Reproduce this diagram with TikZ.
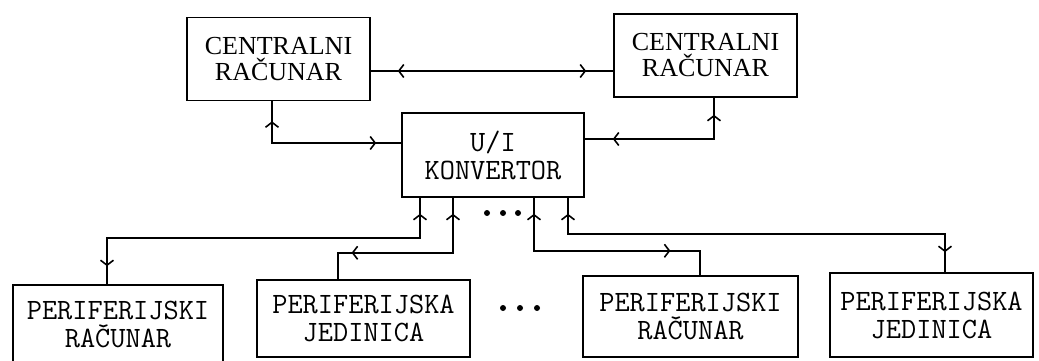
\documentclass[tikz,border=0pt]{standalone}
\usepackage{fontspec}
\setmainfont{Liberation Serif}
\usepackage{tikz}
\usetikzlibrary{arrows.meta,decorations.markings}

\begin{document}
\begin{tikzpicture}[
  x=1pt, y=-1pt,
  central/.style={rectangle, draw, line width=1.6pt, minimum width=183pt, minimum height=83pt, align=center, font=\fontsize{26}{26}\selectfont},
  periph/.style={rectangle, draw, line width=1.6pt, minimum height=79pt, align=center, font=\ttfamily\fontsize{29.5}{28}\selectfont},
  link/.style={line width=1.6pt},
  fwd/.style={postaction={decorate, decoration={markings, mark=at position #1 with {\arrow{Straight Barb[length=5pt, width=13pt, line width=1.6pt]}}}}},
  bwd/.style={postaction={decorate, decoration={markings, mark=at position #1 with {\arrowreversed{Straight Barb[length=5pt, width=13pt, line width=1.6pt]}}}}}
]
  \useasboundingbox (0,0) rectangle (1039,361);

  % Top row: the two central computers
  \node[central] (cl) at (278.5, 59) {CENTRALNI\\RAČUNAR};
  \node[central] (cr) at (705.5, 55.5) {CENTRALNI\\RAČUNAR};

  % Middle: converter
  \node[periph, minimum width=182pt, minimum height=84pt] (ui) at (493, 155) {U/I\\KONVERTOR};

  % Bottom row: peripherals
  \node[periph, minimum width=210pt] (p1) at (118, 324.5) {PERIFERIJSKI\\RAČUNAR};
  \node[periph, minimum width=213pt, minimum height=77pt] (p2) at (363.5, 318.5) {PERIFERIJSKA\\JEDINICA};
  \node[periph, minimum width=215pt, minimum height=81pt] (p3) at (690.5, 316.5) {PERIFERIJSKI\\RAČUNAR};
  \node[periph, minimum width=203pt, minimum height=84pt] (p4) at (931.5, 315) {PERIFERIJSKA\\JEDINICA};

  % Link between central computers
  \draw[link, bwd=27pt, fwd=-27pt] ([yshift=-12pt]cl.east) coordinate (h) -- (h -| cr.west);

  % Central computers to converter
  \draw[link, bwd=20pt, fwd=-25pt] ([xshift=-6.5pt]cl.south) |- ([yshift=12pt]ui.west);
  \draw[link, bwd=17pt, fwd=-28pt] ([xshift=8.5pt]cr.south) |- ([yshift=16pt]ui.east);

  % Converter to peripherals
  \draw[link, bwd=16pt, fwd=-18pt] ([xshift=-73pt]ui.south) -- ++(0,40) -| ([xshift=-11pt]p1.north);
  \draw[link, bwd=16pt, fwd=-40pt] ([xshift=-40pt]ui.south) -- ++(0,55) -| ([xshift=-25.5pt]p2.north);
  \draw[link, bwd=16pt, fwd=-54pt] ([xshift=41pt]ui.south) -- ++(0,53) -| ([xshift=9.5pt]p3.north);
  \draw[link, bwd=16pt, fwd=-20pt] ([xshift=75pt]ui.south) -- ++(0,36) -| ([xshift=13.5pt]p4.north);

  % Dots
  \foreach \x in {487, 503, 518} \fill (\x, 213) circle (3pt);
  \foreach \x in {503, 520, 537} \fill (\x, 308) circle (3pt);
\end{tikzpicture}
\end{document}
